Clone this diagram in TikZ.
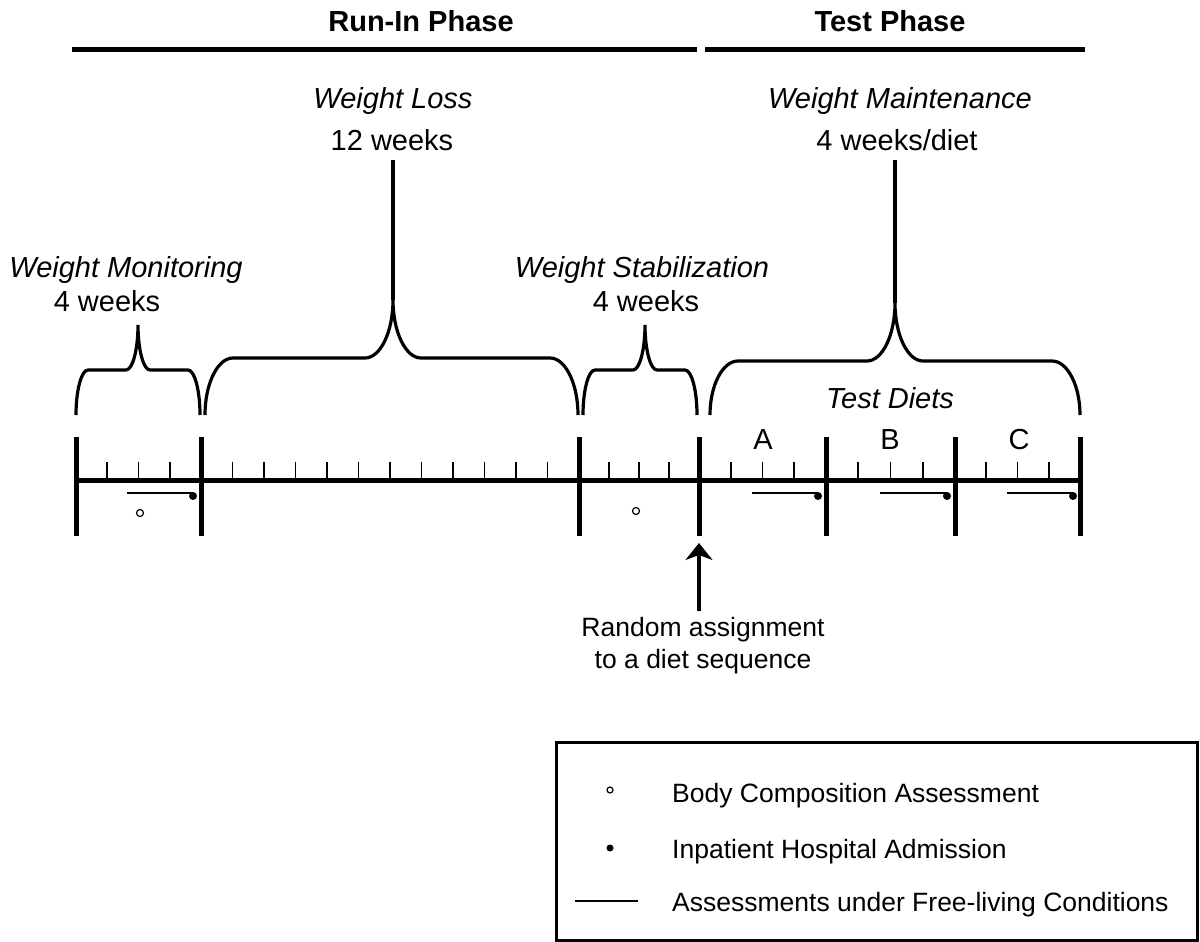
\documentclass[tikz,border=0pt]{standalone}
\usepackage{fontspec}
\setmainfont{Liberation Sans}
\usetikzlibrary{arrows.meta}

\newcommand{\lblfont}{\fontsize{29}{34}\selectfont}
\newcommand{\legfont}{\fontsize{26.5}{32}\selectfont}
% brace: left x, right x, tip x, shoulder y, tip y, corner radius
\newcommand{\phasebrace}[6]{%
  \draw[brc] (#1,415) .. controls (#1,{415-0.55*(415-#4)}) and ({#1+0.45*#6},#4) .. ({#1+#6},#4)
    -- ({#3-#6},#4) .. controls ({#3-0.45*#6},#4) and (#3,{#5+0.55*(#4-#5)}) .. (#3,#5)
    .. controls (#3,{#5+0.55*(#4-#5)}) and ({#3+0.45*#6},#4) .. ({#3+#6},#4)
    -- ({#2-#6},#4) .. controls ({#2-0.45*#6},#4) and (#2,{415-0.55*(415-#4)}) .. (#2,415);}

\begin{document}
\begin{tikzpicture}[x=1pt,y=-1pt,
    lbl/.style={font=\lblfont,inner sep=0pt,anchor=base},
    ilbl/.style={lbl,font=\lblfont\itshape},
    leg/.style={lbl,font=\legfont},
    brc/.style={line width=3.2pt},
    bar/.style={line width=5pt},
    tick/.style={line width=1.8pt},
    freeliv/.style={line width=1.8pt}]
  \useasboundingbox (0,0) rectangle (1200,942);

  % phases
  \node[lbl,font=\lblfont\bfseries] (runin) at (421,32) {Run-In Phase};
  \node[lbl,font=\lblfont\bfseries] (test) at (890,32) {Test Phase};
  \draw[line width=5pt] (72,50) -- (697,50);
  \draw[line width=5pt] (705,50) -- (1085,50);

  % period labels
  \node[ilbl] (loss) at (393,108) {Weight Loss};
  \node[lbl] (losswk) at (392,150) {12 weeks};
  \node[ilbl] (maint) at (900,108) {Weight Maintenance};
  \node[lbl] (maintwk) at (897,150) {4 weeks/diet};
  \node[ilbl] (monit) at (126,277) {Weight Monitoring};
  \node[lbl] (monitwk) at (107,311) {4 weeks};
  \node[ilbl] (stab) at (642,277) {Weight Stabilization};
  \node[lbl] (stabwk) at (646,311) {4 weeks};
  \node[ilbl] (diets) at (890,408) {Test Diets};
  \node[lbl] (dietA) at (763,449) {A};
  \node[lbl] (dietB) at (890,449) {B};
  \node[lbl] (dietC) at (1019,449) {C};

  % braces
  \phasebrace{76}{200}{138}{370}{325}{12}
  \phasebrace{205}{578}{393}{358}{300}{28}
  \phasebrace{583}{697}{645}{370}{325}{12}
  \phasebrace{710}{1080}{895}{361}{303}{28}
  \coordinate (losstip) at (393,300);
  \coordinate (mainttip) at (895,303);
  \draw[brc] ([yshift=-10pt]losswk.south -| losstip) -- (losstip);
  \draw[brc] ([yshift=-10pt]maintwk.south -| mainttip) -- (mainttip);

  % time line
  \draw[line width=5pt] (76,480) -- (1082,480);
  \foreach \x in {76,201,579,699,826,955,1080}
    \draw[bar] (\x,437) -- (\x,536);
  \foreach \a/\b/\n in {76/201/4,201/579/12,579/699/4,699/826/4,826/955/4,955/1080/4}{
    \pgfmathtruncatemacro\m{\n-1}
    \foreach \k in {1,...,\m}
      \draw[tick] ({\a+(\b-\a)*\k/\n},462) -- ++(0,17);
  }
  \foreach \s/\e in {127/193,752/818,880/947,1007/1073}{
    \draw[freeliv] (\s,493) -- (\e,493);
    \fill (\e,496) circle[radius=4pt];
  }
  \draw[line width=1.2pt] (140,513) circle[radius=3.5pt];
  \draw[line width=1.2pt] (636,511) circle[radius=3.5pt];

  % randomisation
  \coordinate (randpt) at (699,543);
  \node[leg] (rand1) at (703,636) {Random assignment};
  \node[leg] (rand2) at (703,668) {to a diet sequence};
  \draw[line width=3.5pt,-{Stealth[length=17pt,width=27pt,inset=5pt]}]
    ([yshift=6pt]rand1.north -| randpt) -- (randpt);

  % legend
  \draw[line width=3pt] (556,742) rectangle (1197,940);
  \draw[line width=1.2pt] (610,790) circle[radius=3pt];
  \fill (610,848) circle[radius=3.5pt];
  \draw[freeliv] (575,901) -- (638,901);
  \node[leg,anchor=base west] (leg1) at (672,802) {Body Composition Assessment};
  \node[leg,anchor=base west] (leg2) at (672,858) {Inpatient Hospital Admission};
  \node[leg,anchor=base west] (leg3) at (672,911) {Assessments under Free-living Conditions};
\end{tikzpicture}
\end{document}
